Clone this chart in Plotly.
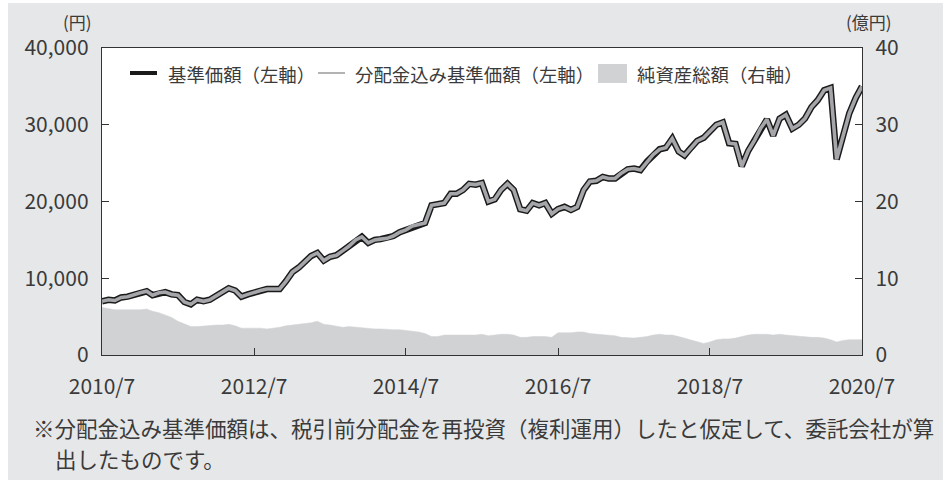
import plotly.graph_objects as go
import pandas as pd

# ---------------- data ----------------
months = pd.date_range("2010-07-01", "2020-07-01", freq="MS")

# 基準価額 (円), monthly readings 2010/7 .. 2020/7
nav = [
    7000, 7200, 7100, 7500, 7600, 7900,
    8100, 8300, 7800, 8100, 8200, 7900,
    7800, 6900, 6600, 7200, 7000, 7200,
    7700, 8300, 8700, 8400, 7600, 7900,
    8200, 8400, 8600, 8600, 8600, 9600,
    10800, 11400, 12100, 12900, 13300, 12300,
    12800, 13000, 13600, 14200, 15000, 15400,
    14600, 15000, 15100, 15200, 15500, 16000,
    16300, 16800, 17000, 17200, 19500, 19700,
    19800, 21000, 21000, 21500, 22300, 22200,
    22400, 20000, 20300, 21500, 22300, 21500,
    19000, 18800, 19800, 19500, 19800, 18400,
    19000, 19300, 18900, 19300, 21500, 22600,
    22700, 23200, 23000, 23000, 23700, 24200,
    24300, 24100, 25200, 26100, 26800, 27000,
    28200, 26500, 26000, 27000, 27900, 28300,
    29100, 30000, 30300, 27600, 27500, 24600,
    26600, 28000, 29500, 30700, 28600, 30800,
    31300, 29500, 30000, 30800, 32300, 33200,
    34500, 34800, 25500, 28500, 31500, 33500,
    35000,
]

# 分配金込み基準価額 (円) – overlaps the NAV line in the chart
nav_reinvested = [
    7000, 7200, 7100, 7500, 7600, 7900,
    8100, 8300, 7800, 8100, 8200, 7900,
    7800, 6900, 6600, 7200, 7000, 7200,
    7700, 8300, 8700, 8400, 7600, 7900,
    8200, 8400, 8600, 8600, 8600, 9600,
    10800, 11400, 12100, 12900, 13300, 12300,
    12800, 13000, 13600, 14200, 15000, 15400,
    14600, 15000, 15100, 15200, 15500, 16000,
    16300, 16800, 17000, 17200, 19500, 19700,
    19800, 21000, 21000, 21500, 22300, 22200,
    22400, 20000, 20300, 21500, 22300, 21500,
    19000, 18800, 19800, 19500, 19800, 18400,
    19000, 19300, 18900, 19300, 21500, 22600,
    22700, 23200, 23000, 23000, 23700, 24200,
    24300, 24100, 25200, 26100, 26800, 27000,
    28200, 26500, 26000, 27000, 27900, 28300,
    29100, 30000, 30300, 27600, 27500, 24600,
    26600, 28000, 29500, 30700, 28600, 30800,
    31300, 29500, 30000, 30800, 32300, 33200,
    34500, 34800, 25500, 28500, 31500, 33500,
    35000,
]

# 純資産総額 (億円)
net_assets = [
    6.2, 6.0, 5.9, 5.9, 5.9, 5.9,
    5.9, 6.0, 5.7, 5.5, 5.2, 4.9,
    4.4, 4.0, 3.7, 3.7, 3.8, 3.8,
    3.9, 3.9, 4.0, 3.8, 3.5, 3.5,
    3.5, 3.5, 3.4, 3.5, 3.6, 3.8,
    3.9, 4.0, 4.1, 4.2, 4.4, 4.0,
    3.9, 3.7, 3.6, 3.7, 3.6, 3.6,
    3.5, 3.4, 3.4, 3.3, 3.3, 3.3,
    3.2, 3.1, 3.0, 2.8, 2.4, 2.4,
    2.6, 2.6, 2.6, 2.6, 2.6, 2.6,
    2.7, 2.5, 2.6, 2.7, 2.7, 2.6,
    2.3, 2.3, 2.4, 2.4, 2.4, 2.3,
    2.9, 2.9, 2.9, 3.0, 3.0, 2.8,
    2.7, 2.6, 2.6, 2.5, 2.3, 2.2,
    2.2, 2.3, 2.4, 2.6, 2.7, 2.6,
    2.6, 2.4, 2.2, 2.0, 1.8, 1.5,
    1.7, 2.0, 2.1, 2.1, 2.2, 2.4,
    2.6, 2.7, 2.7, 2.7, 2.6, 2.7,
    2.6, 2.5, 2.4, 2.4, 2.3, 2.3,
    2.2, 2.0, 1.7, 1.9, 2.0, 2.0,
    2.0,
]

x_tick_dates = ["2010-07-01", "2012-07-01", "2014-07-01",
                "2016-07-01", "2018-07-01", "2020-07-01"]
x_tick_labels = ["2010/7", "2012/7", "2014/7", "2016/7", "2018/7", "2020/7"]
left_ticks = [0, 10000, 20000, 30000, 40000]
left_tick_labels = ["0", "10,000", "20,000", "30,000", "40,000"]
right_ticks = [0, 10, 20, 30, 40]
right_tick_labels = ["0", "10", "20", "30", "40"]

legend_labels = ["基準価額（左軸）", "分配金込み基準価額（左軸）", "純資産総額（右軸）"]
footnote_1 = "※分配金込み基準価額は、税引前分配金を再投資（複利運用）したと仮定して、委託会社が算"
footnote_2 = "出したものです。"

# ---------------- styling ----------------
W, H = 943, 480
L, R, T, B = 102, 862, 48, 355
FONT = "Noto Sans CJK JP"
TXT = "#3a3a3a"
BG = "#e6e7e8"
AREA = "#d1d2d4"
BAND = "#a4a6a9"


def px(x):
    return (x - L) / (R - L)


def py(y):
    return (B - y) / (B - T)


fig = go.Figure()

fig.add_trace(go.Scatter(
    x=months, y=net_assets, yaxis="y", mode="lines",
    fill="tozeroy", fillcolor=AREA, line=dict(color=AREA, width=0.5),
    name=legend_labels[2], showlegend=False, hoverinfo="skip",
))
fig.add_trace(go.Scatter(
    x=months, y=nav, yaxis="y2", mode="lines",
    line=dict(color="#1a1a1a", width=6.5), name=legend_labels[0],
    showlegend=False,
))
fig.add_trace(go.Scatter(
    x=months, y=nav_reinvested, yaxis="y2", mode="lines",
    line=dict(color=BAND, width=3.6), name=legend_labels[1],
    showlegend=False,
))

tickfont = dict(family=FONT, size=21, color=TXT)

fig.update_layout(
    width=W, height=H, autosize=False,
    margin=dict(l=L, r=W - R, t=T, b=H - B, pad=0),
    paper_bgcolor=BG, plot_bgcolor="white",
    showlegend=False,
    xaxis=dict(
        type="date", range=["2010-07-01", "2020-07-01"],
        tickvals=x_tick_dates, ticktext=x_tick_labels,
        ticks="inside", ticklen=7, tickwidth=1.2, tickcolor="#333",
        showline=True, linecolor="#333", linewidth=1.4, mirror=True,
        showgrid=False, zeroline=False, tickfont=tickfont,
        ticklabelstandoff=13,
    ),
    yaxis=dict(
        range=[0, 40], side="right",
        tickvals=right_ticks, ticktext=right_tick_labels,
        ticks="inside", ticklen=7, tickwidth=1.2, tickcolor="#333",
        showline=True, linecolor="#333", linewidth=1.4,
        showgrid=False, zeroline=False, tickfont=tickfont,
        ticklabelstandoff=8,
    ),
    yaxis2=dict(
        range=[0, 40000], side="left", overlaying="y",
        tickvals=left_ticks, ticktext=left_tick_labels,
        ticks="inside", ticklen=7, tickwidth=1.2, tickcolor="#333",
        showline=True, linecolor="#333", linewidth=1.4,
        showgrid=False, zeroline=False, tickfont=tickfont,
        ticklabelstandoff=8,
    ),
)

# white page edges outside the grey panel
fig.add_shape(type="rect", xref="paper", yref="paper",
              x0=px(-20), x1=px(8), y0=py(500), y1=py(-20),
              fillcolor="white", line_width=0, layer="below")
fig.add_shape(type="rect", xref="paper", yref="paper",
              x0=px(-20), x1=px(960), y0=py(3), y1=py(-20),
              fillcolor="white", line_width=0, layer="below")

# legend (drawn inside the plot, as in the original)
leg_y = 73
fig.add_shape(type="line", xref="paper", yref="paper",
              x0=px(130), x1=px(157), y0=py(leg_y), y1=py(leg_y),
              line=dict(color="#1a1a1a", width=4))
fig.add_shape(type="line", xref="paper", yref="paper",
              x0=px(318), x1=px(345), y0=py(leg_y), y1=py(leg_y),
              line=dict(color="#9a9a9a", width=1.5))
fig.add_shape(type="rect", xref="paper", yref="paper",
              x0=px(598), x1=px(627), y0=py(83), y1=py(64),
              fillcolor=AREA, line_width=0)

legfont = dict(family=FONT, size=18.4, color=TXT)
for xpos, label in zip([166, 353, 635], legend_labels):
    fig.add_annotation(x=px(xpos), y=py(leg_y + 1), xref="paper", yref="paper",
                       text=label, showarrow=False, xanchor="left",
                       yanchor="middle", font=legfont)

# axis unit labels
fig.add_annotation(x=px(94), y=py(36), xref="paper", yref="paper",
                   text="(円)", showarrow=False, xanchor="right",
                   yanchor="bottom", font=dict(family=FONT, size=17, color=TXT))
fig.add_annotation(x=px(894), y=py(36), xref="paper", yref="paper",
                   text="(億円)", showarrow=False, xanchor="right",
                   yanchor="bottom", font=dict(family=FONT, size=17, color=TXT))

# footnote
footfont = dict(family=FONT, size=21.5, color=TXT)
fig.add_annotation(x=px(32), y=py(427), xref="paper", yref="paper",
                   text=footnote_1, showarrow=False, xanchor="left",
                   yanchor="middle", font=footfont, borderpad=0)
fig.add_annotation(x=px(54), y=py(458), xref="paper", yref="paper",
                   text=footnote_2, showarrow=False, xanchor="left",
                   yanchor="middle", font=footfont, borderpad=0)

fig.write_html("out.html",
               config={"displayModeBar": False},
               post_script="document.body.style.margin='0px';")
